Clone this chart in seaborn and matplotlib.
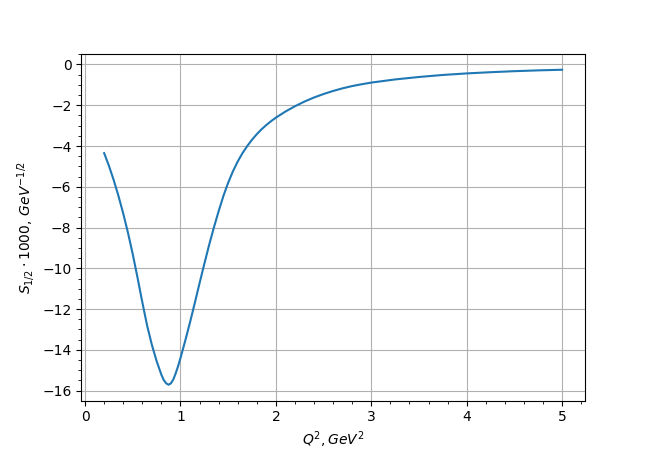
import numpy as np
import pandas as pd
import seaborn as sns
import matplotlib
matplotlib.use('Agg')
import matplotlib.pyplot as plt

# Values
q2 = [0.2, 0.25, 0.3, 0.35, 0.4, 0.45, 0.5, 0.55, 0.6, 0.65, 0.7, 0.75,
      0.8, 0.825, 0.85, 0.875, 0.9, 0.925, 0.95, 0.975, 1.0, 1.05, 1.1,
      1.15, 1.2, 1.25, 1.3, 1.35, 1.4, 1.45, 1.5, 1.55, 1.6, 1.65, 1.7,
      1.75, 1.8, 1.85, 1.9, 1.95, 2.0, 2.1, 2.2, 2.3, 2.4, 2.5, 2.6, 2.7,
      2.8, 2.9, 3.0, 3.25, 3.5, 3.75, 4.0, 4.25, 4.5, 4.75, 5.0]
s12 = [-4.35, -4.97, -5.67, -6.45, -7.31, -8.26, -9.31, -10.46, -11.66,
       -12.8, -13.75, -14.55, -15.22, -15.48, -15.64, -15.71, -15.64,
       -15.45, -15.15, -14.8, -14.4, -13.55, -12.65, -11.7, -10.73, -9.78,
       -8.86, -8.0, -7.2, -6.45, -5.8, -5.24, -4.76, -4.35, -4.0, -3.69,
       -3.42, -3.18, -2.97, -2.78, -2.61, -2.31, -2.05, -1.82, -1.62,
       -1.45, -1.3, -1.17, -1.06, -0.97, -0.89, -0.735, -0.615, -0.515,
       -0.44, -0.38, -0.33, -0.29, -0.26]

df = pd.DataFrame({'q2': q2, 's12': s12})

fig, ax = plt.subplots(figsize=(6.5, 4.5), dpi=100)
sns.lineplot(data=df, x='q2', y='s12', ax=ax, color='C0', linewidth=1.5)
ax.grid(True)
ax.minorticks_on()
ax.set_xlabel(r'$Q^2, GeV^2$')
ax.set_ylabel(r'$S_{1/2} \cdot 1000, \, GeV^{-1/2}$')
fig.savefig('out.png', dpi=100)
